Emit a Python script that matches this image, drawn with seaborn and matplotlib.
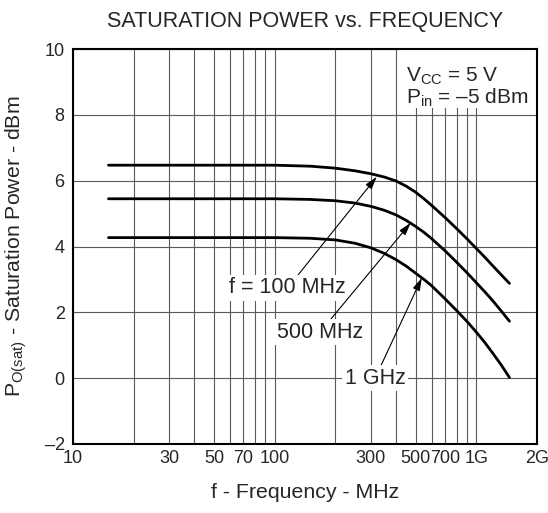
import numpy as np
import pandas as pd
import matplotlib
matplotlib.use('Agg')
import matplotlib.pyplot as plt
import seaborn as sns

# --- data (MHz, dBm) ---
freq_100m = [15, 100, 150, 200, 250, 300, 350, 400, 450, 500, 550, 600, 700, 800, 900, 1000, 1100, 1200, 1330, 1460]
psat_100m = [6.47, 6.47, 6.44, 6.38, 6.30, 6.21, 6.11, 5.99, 5.83, 5.65, 5.45, 5.25, 4.88, 4.54, 4.23, 3.94, 3.68, 3.43, 3.14, 2.88]

freq_500m = [15, 100, 150, 200, 250, 300, 350, 400, 450, 500, 550, 600, 700, 800, 900, 1000, 1100, 1200, 1330, 1460]
psat_500m = [5.45, 5.45, 5.43, 5.39, 5.32, 5.22, 5.10, 4.96, 4.79, 4.61, 4.43, 4.24, 3.87, 3.52, 3.20, 2.90, 2.63, 2.37, 2.04, 1.73]

freq_1g = [15, 100, 150, 200, 250, 300, 350, 400, 450, 500, 550, 600, 700, 800, 900, 1000, 1100, 1200, 1330, 1460]
psat_1g = [4.27, 4.27, 4.25, 4.20, 4.10, 3.96, 3.79, 3.60, 3.40, 3.19, 3.00, 2.81, 2.41, 2.05, 1.72, 1.40, 1.09, 0.78, 0.40, 0.02]

curve_labels = ['f = 100 MHz', '500 MHz', '1 GHz']
label_text_pos = [(116, 2.74), (168, 1.40), (315, 0.0)]
label_arrow_tip = [(321, 6.12), (473, 4.72), (537, 3.05)]

xtick_vals = [10, 30, 50, 70, 100, 300, 500, 700, 1000, 2000]
xtick_labels = ['10', '30', '50', '70', '100', '300', '500', '700', '1G', '2G']
xgrid_minor = [20, 40, 60, 80, 90, 200, 400, 600, 800, 900]
ytick_vals = [-2, 0, 2, 4, 6, 8, 10]
ytick_labels = ['\u20132', '0', '2', '4', '6', '8', '10']

df = pd.concat([
    pd.DataFrame({'freq': freq_100m, 'psat': psat_100m, 'curve': curve_labels[0]}),
    pd.DataFrame({'freq': freq_500m, 'psat': psat_500m, 'curve': curve_labels[1]}),
    pd.DataFrame({'freq': freq_1g, 'psat': psat_1g, 'curve': curve_labels[2]}),
])

sns.set_style('white')
plt.rcParams.update({
    'font.family': ['Liberation Sans', 'DejaVu Sans'],
    'mathtext.fontset': 'custom',
    'mathtext.rm': 'Liberation Sans',
    'mathtext.it': 'Liberation Sans:italic',
    'axes.unicode_minus': False,
})

fig = plt.figure(figsize=(5.48, 5.13), dpi=100)
ax = fig.add_axes([73 / 548, 69 / 513, 464 / 548, 395 / 513])

sns.lineplot(data=df, x='freq', y='psat', hue='curve', units='curve',
             estimator=None, palette=['black'] * 3, linewidth=2.0,
             legend=False, ax=ax, zorder=3)

ax.set_xscale('log')
ax.set_xlim(10, 2000)
ax.set_ylim(-2, 10)
ax.set_xticks(xtick_vals)
ax.set_xticklabels(xtick_labels, fontsize=13)
ax.set_xticks(xgrid_minor, minor=True)
ax.set_xticklabels([], minor=True)
ax.set_yticks(ytick_vals)
ax.set_yticklabels(ytick_labels, fontsize=13)
ax.tick_params(axis='both', which='both', length=0)
ax.tick_params(axis='x', pad=4)
ax.tick_params(axis='y', pad=6)

ax.set_axisbelow(True)
ax.grid(True, which='both', axis='x', color='#5a5a5a', linewidth=0.8)
ax.grid(True, which='major', axis='y', color='#5a5a5a', linewidth=0.8)

for sp in ax.spines.values():
    sp.set_visible(True)
    sp.set_color('black')
    sp.set_linewidth(1.5)

# white panel behind the condition text
ax.axvspan(410, 2000, ymin=(8.2 + 2) / 12, ymax=1, color='white', zorder=1, lw=0)
ax.text(450, 9.0, r'V$_{\mathrm{CC}}$ = 5 V', fontsize=15, va='baseline', zorder=4)
ax.text(450, 8.33, 'P$_{\\mathrm{in}}$ = \u20135 dBm', fontsize=15, va='baseline', zorder=4)

for lbl, (tx, ty), (hx, hy) in zip(curve_labels, label_text_pos, label_arrow_tip):
    ax.annotate(lbl, xy=(hx, hy), xytext=(tx, ty), fontsize=15.5,
                ha='center', va='center', zorder=4,
                bbox=dict(boxstyle='square,pad=0.12', fc='white', ec='none'),
                arrowprops=dict(arrowstyle='-|>,head_length=0.55,head_width=0.16',
                                color='black', lw=0.8, mutation_scale=14,
                                shrinkA=0, shrinkB=0))

ax.set_title('SATURATION POWER vs. FREQUENCY', fontsize=15.5, pad=16)
ax.set_xlabel('f - Frequency - MHz', fontsize=15.3, labelpad=12)
ax.set_ylabel(r'P$_{\mathrm{O(sat)}}$ - Saturation Power - dBm', fontsize=15.3, labelpad=11)

fig.savefig('out.png', dpi=100)
